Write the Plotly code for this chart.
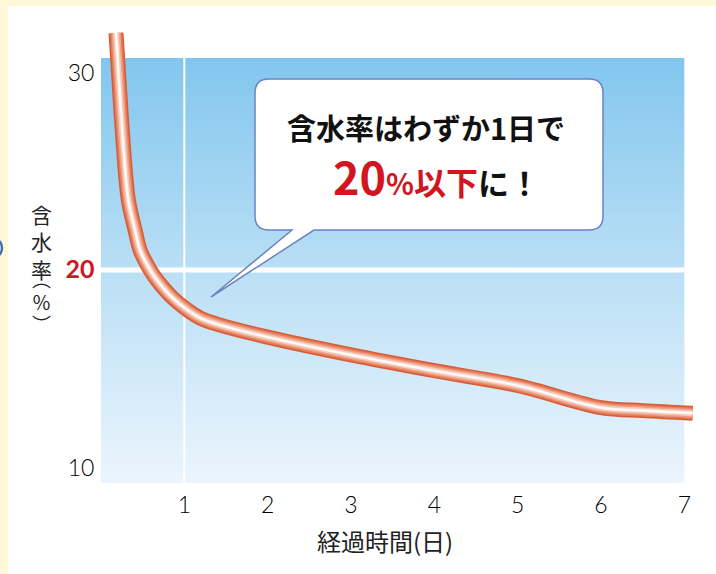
import plotly.graph_objects as go

# ---- data ----
days = [0.18, 0.24, 0.30, 0.33, 0.41, 0.47, 0.59, 0.67, 0.85, 1.04, 1.2, 1.4, 2.0, 3.0, 4.0, 5.0, 6.0, 6.5, 7.1]
moisture = [32.0, 28.0, 24.6, 23.5, 22.0, 21.0, 20.0, 19.5, 18.63, 17.97, 17.55, 17.25, 16.6, 15.7, 14.9, 14.15, 13.03, 12.88, 12.75]

x_ticks = [1, 2, 3, 4, 5, 6, 7]
x_ticktext = ["1", "2", "3", "4", "5", "6", "7"]
y_ticks = [10, 20, 30]
y_ticktext = ["10", "<span style='font-family:Lato;font-weight:900;color:#D2151E;font-size:25px'><b>20</b></span>", "30"]

callout_line1 = "<b>含水率はわずか1日で</b>"
callout_line2 = ("<b><span style='font-size:45px;color:#D2151E'>20</span>"
                 "<span style='font-size:29px;color:#D2151E'>%</span>"
                 "<span style='font-size:32px;color:#D2151E'>以下</span>"
                 "<span style='font-size:31px;color:#111111'>に！</span></b>")
x_title = "経過時間(日)"
y_title_main = "含<br>水<br>率"
y_title_unit = ["︵", "％", "︶"]

# ---- layout geometry ----
W, H = 716, 574
L, R, T, B = 101, 15, 20, 91
X_RANGE = [0, 7.2]
Y_RANGE = [9.215, 32.66]
PANEL_X = [0, 7]
PANEL_Y = [9.215, 30.73]
pw = W - L - R
ph = H - T - B
ppd = pw / (X_RANGE[1] - X_RANGE[0])
ppu = ph / (Y_RANGE[1] - Y_RANGE[0])


def dx(px):
    return X_RANGE[0] + (px - L) / ppd


def dy(py):
    return Y_RANGE[0] + (H - B - py) / ppu


def paper_x(px):
    return (px - L) / pw


def paper_y(py):
    return (H - B - py) / ph


CJK = "Noto Sans CJK JP"
NUM = "Lato"

fig = go.Figure()

# gradient panel
fig.add_trace(go.Scatter(
    x=[PANEL_X[0], PANEL_X[1], PANEL_X[1], PANEL_X[0], PANEL_X[0]],
    y=[PANEL_Y[0], PANEL_Y[0], PANEL_Y[1], PANEL_Y[1], PANEL_Y[0]],
    mode="lines", line=dict(width=0), fill="toself",
    fillgradient=dict(type="vertical",
                      colorscale=[[0, "#EBF5FD"], [0.5, "#BADFF5"], [1, "#82C6EE"]]),
    hoverinfo="skip", showlegend=False))

# white guide lines
fig.add_trace(go.Scatter(x=[1, 1], y=PANEL_Y, mode="lines",
                         line=dict(color="white", width=2), hoverinfo="skip", showlegend=False))
fig.add_trace(go.Scatter(x=PANEL_X, y=[20, 20], mode="lines",
                         line=dict(color="white", width=5), hoverinfo="skip", showlegend=False))

# tube-like curve
for w, c in [(15, "#D75C36"), (12, "#E27C5A"), (9, "#EDA085"), (6, "#F6C8B6"), (3, "#FDEDE7"), (1.2, "#FFFFFF")]:
    fig.add_trace(go.Scatter(x=days, y=moisture, mode="lines",
                             line=dict(color=c, width=w, shape="spline", smoothing=1.0),
                             hoverinfo="skip", showlegend=False))

# callout bubble
x0, x1 = dx(255), dx(603)
y0, y1 = dy(230), dy(79)
rx, ry = 14 / ppd, 14 / ppu
tb1, tb2 = dx(292), dx(314)
tipx, tipy = dx(211), dy(297)
path = (f"M {x0+rx},{y1} L {x1-rx},{y1} Q {x1},{y1} {x1},{y1-ry} "
        f"L {x1},{y0+ry} Q {x1},{y0} {x1-rx},{y0} "
        f"L {tb2},{y0} L {tipx},{tipy} L {tb1},{y0} "
        f"L {x0+rx},{y0} Q {x0},{y0} {x0},{y0+ry} "
        f"L {x0},{y1-ry} Q {x0},{y1} {x0+rx},{y1} Z")

shapes = [
    dict(type="path", path=path, xref="x", yref="y", fillcolor="white",
         line=dict(color="#6A84C0", width=1.5), layer="above"),
    # cream page border strips
    dict(type="rect", xref="paper", yref="paper", x0=paper_x(0), x1=paper_x(8),
         y0=paper_y(H), y1=paper_y(0), fillcolor="#FEF8D8", line=dict(width=0), layer="below"),
    dict(type="rect", xref="paper", yref="paper", x0=paper_x(0), x1=paper_x(W),
         y0=paper_y(6), y1=paper_y(0), fillcolor="#FEF8D8", line=dict(width=0), layer="below"),
    # small blue arc fragment on the left page edge
    dict(type="circle", xref="paper", yref="paper", x0=paper_x(-10), x1=paper_x(2),
         y0=paper_y(256), y1=paper_y(240), line=dict(color="#3D6DB3", width=2.5), layer="below"),
]

annotations = [
    dict(text=callout_line1, x=dx(426), y=dy(127), xref="x", yref="y", showarrow=False,
         font=dict(family=CJK, size=29, color="#111111"), xanchor="center", yanchor="middle"),
    dict(text=callout_line2, x=dx(436), y=dy(175), xref="x", yref="y", showarrow=False,
         font=dict(family=CJK, size=31, color="#111111"), xanchor="center", yanchor="middle"),
    dict(text=x_title, x=paper_x(385), y=paper_y(540), xref="paper", yref="paper", showarrow=False,
         font=dict(family=CJK, size=24, color="#222222"), xanchor="center", yanchor="middle"),
    dict(text=y_title_main, x=paper_x(41), y=paper_y(241), xref="paper", yref="paper", showarrow=False,
         font=dict(family=CJK, size=21, color="#222222"), xanchor="center", yanchor="middle"),
]
for ch, yc in zip(y_title_unit, [278, 301, 323]):
    annotations.append(dict(text=ch, x=paper_x(41), y=paper_y(yc), xref="paper", yref="paper",
                            showarrow=False, font=dict(family=CJK, size=19, color="#222222"),
                            xanchor="center", yanchor="middle"))

fig.update_layout(
    width=W, height=H,
    margin=dict(l=L, r=R, t=T, b=B),
    paper_bgcolor="white", plot_bgcolor="white",
    showlegend=False,
    shapes=shapes, annotations=annotations,
    xaxis=dict(range=X_RANGE, tickvals=x_ticks, ticktext=x_ticktext, showgrid=False,
               zeroline=False, showline=False, ticks="outside", ticklen=1,
               tickcolor="rgba(0,0,0,0)",
               tickfont=dict(family=NUM, size=23, color="#000000", weight=300)),
    yaxis=dict(range=Y_RANGE, tickvals=y_ticks, ticktext=y_ticktext, showgrid=False,
               zeroline=False, showline=False, ticks="outside", ticklen=1,
               tickcolor="rgba(0,0,0,0)",
               tickfont=dict(family=NUM, size=23, color="#000000", weight=300)),
)

fig.write_html("out.html", config={"displayModeBar": False},
               post_script="document.body.style.margin='0px';")
